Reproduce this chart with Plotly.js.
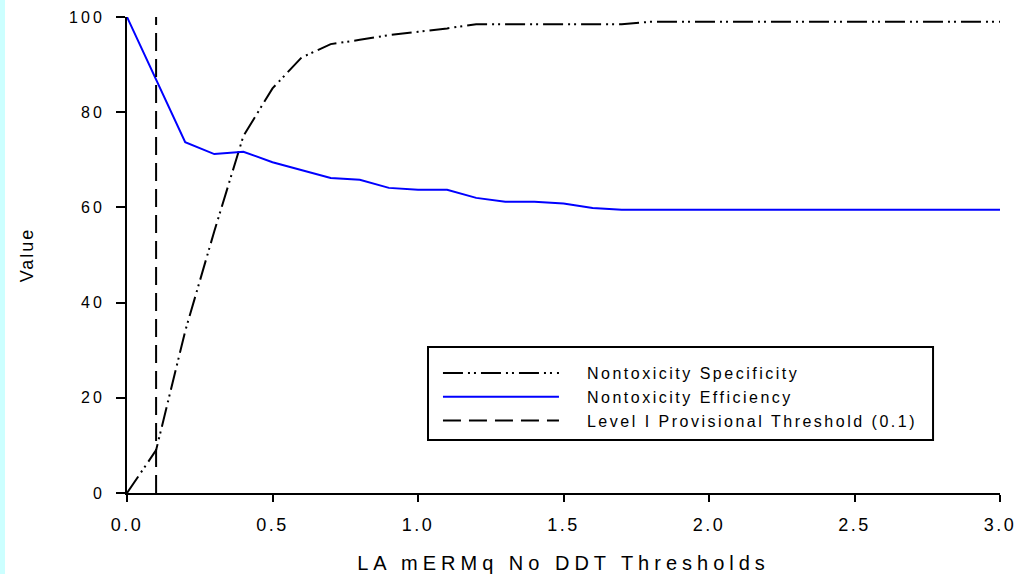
<!DOCTYPE html>
<html>
<head>
<meta charset="utf-8">
<script src="https://cdn.plot.ly/plotly-3.0.1.min.js"></script>
<style>
  html, body { margin: 0; padding: 0; background: #ccffff; }
  #chart { margin-left: 5px; width: 1027px; height: 574px; background: #ffffff; }
  .xtick text { letter-spacing: 2.5px; }
  .ytick text { letter-spacing: 3px; }
  .legendtext { letter-spacing: 2.5px; transform: translateX(23px); }
  .legend .scrollbox { clip-path: none !important; }
  .xtitle { letter-spacing: 5px; }
  .ytitle { letter-spacing: 2px; }
</style>
</head>
<body>
<div id="chart"></div>
<script>
// Thresholds (x) shared by both curves
const thresholds = [0.0, 0.1, 0.2, 0.3, 0.4, 0.5, 0.6, 0.7, 0.8, 0.9, 1.0,
                    1.1, 1.2, 1.3, 1.4, 1.5, 1.6, 1.7, 1.8, 1.9, 2.0,
                    2.1, 2.2, 2.3, 2.4, 2.5, 2.6, 2.7, 2.8, 2.9, 3.0];
const specificity = [0, 9, 34, 55, 75, 85, 91.5, 94.3, 95.2, 96.2, 96.9,
                     97.6, 98.5, 98.5, 98.5, 98.5, 98.5, 98.5, 99, 99, 99,
                     99, 99, 99, 99, 99, 99, 99, 99, 99, 99];
const efficiency = [100, 86.8, 73.7, 71.2, 71.7, 69.5, 67.9, 66.2, 65.8, 64.1, 63.7,
                    63.7, 62.0, 61.2, 61.2, 60.8, 59.9, 59.5, 59.5, 59.5, 59.5,
                    59.5, 59.5, 59.5, 59.5, 59.5, 59.5, 59.5, 59.5, 59.5, 59.5];
const thresholdX = [0.1, 0.1];
const thresholdY = [0, 100];
const seriesNames = ["Nontoxicity Specificity", "Nontoxicity Efficiency", "Level I Provisional Threshold (0.1)"];
const xTickVals = [0, 0.5, 1.0, 1.5, 2.0, 2.5, 3.0];
const xTickText = ["0.0", "0.5", "1.0", "1.5", "2.0", "2.5", "3.0"];
const yTickVals = [0, 20, 40, 60, 80, 100];

const FONT = '"Liberation Sans", Arial, sans-serif';

const traces = [
  { x: thresholds, y: specificity, name: seriesNames[0], mode: 'lines',
    line: { color: '#000000', width: 2, dash: '20px,5px,2px,4px,2px,5px' } },
  { x: thresholds, y: efficiency, name: seriesNames[1], mode: 'lines',
    line: { color: '#0000ff', width: 2 } },
  { x: thresholdX, y: thresholdY, name: seriesNames[2], mode: 'lines',
    line: { color: '#000000', width: 2, dash: '18px,8px' } }
];

const layout = {
  width: 1027, height: 574,
  margin: { l: 122, r: 32, t: 17, b: 81 },
  paper_bgcolor: '#ffffff', plot_bgcolor: '#ffffff',
  font: { family: FONT, color: '#000000' },
  showlegend: true,
  legend: {
    x: 0.3562, y: 0.2878, xanchor: 'left', yanchor: 'top',
    bgcolor: 'rgba(0,0,0,0)', borderwidth: 0,
    font: { family: FONT, size: 16, color: '#000000' },
    itemwidth: 116
  },
  shapes: [
    { type: 'rect', xref: 'paper', yref: 'paper',
      x0: 0.3448, x1: 0.9233, y0: 0.1113, y1: 0.3067,
      line: { color: '#000000', width: 2 }, fillcolor: 'rgba(0,0,0,0)', layer: 'above' }
  ],
  xaxis: {
    range: [0, 3], tickvals: xTickVals, ticktext: xTickText,
    showgrid: false, zeroline: false, showline: true, linecolor: '#000000', linewidth: 2,
    ticks: 'outside', ticklen: 7, tickwidth: 2, tickcolor: '#000000',
    ticklabelstandoff: 7,
    tickfont: { family: FONT, size: 18, color: '#000000' },
    title: { text: 'LA mERMq No DDT Thresholds', font: { family: FONT, size: 20, color: '#000000' }, standoff: 24 }
  },
  yaxis: {
    range: [0, 100], tickvals: yTickVals,
    showgrid: false, zeroline: false, showline: true, linecolor: '#000000', linewidth: 2,
    ticks: 'outside', ticklen: 9, tickwidth: 2, tickcolor: '#000000',
    ticklabelstandoff: 8,
    tickfont: { family: FONT, size: 16, color: '#000000' },
    title: { text: 'Value', font: { family: FONT, size: 18, color: '#000000' }, standoff: 31 }
  }
};

Plotly.newPlot('chart', traces, layout, { displayModeBar: false, staticPlot: true });
</script>
</body>
</html>
